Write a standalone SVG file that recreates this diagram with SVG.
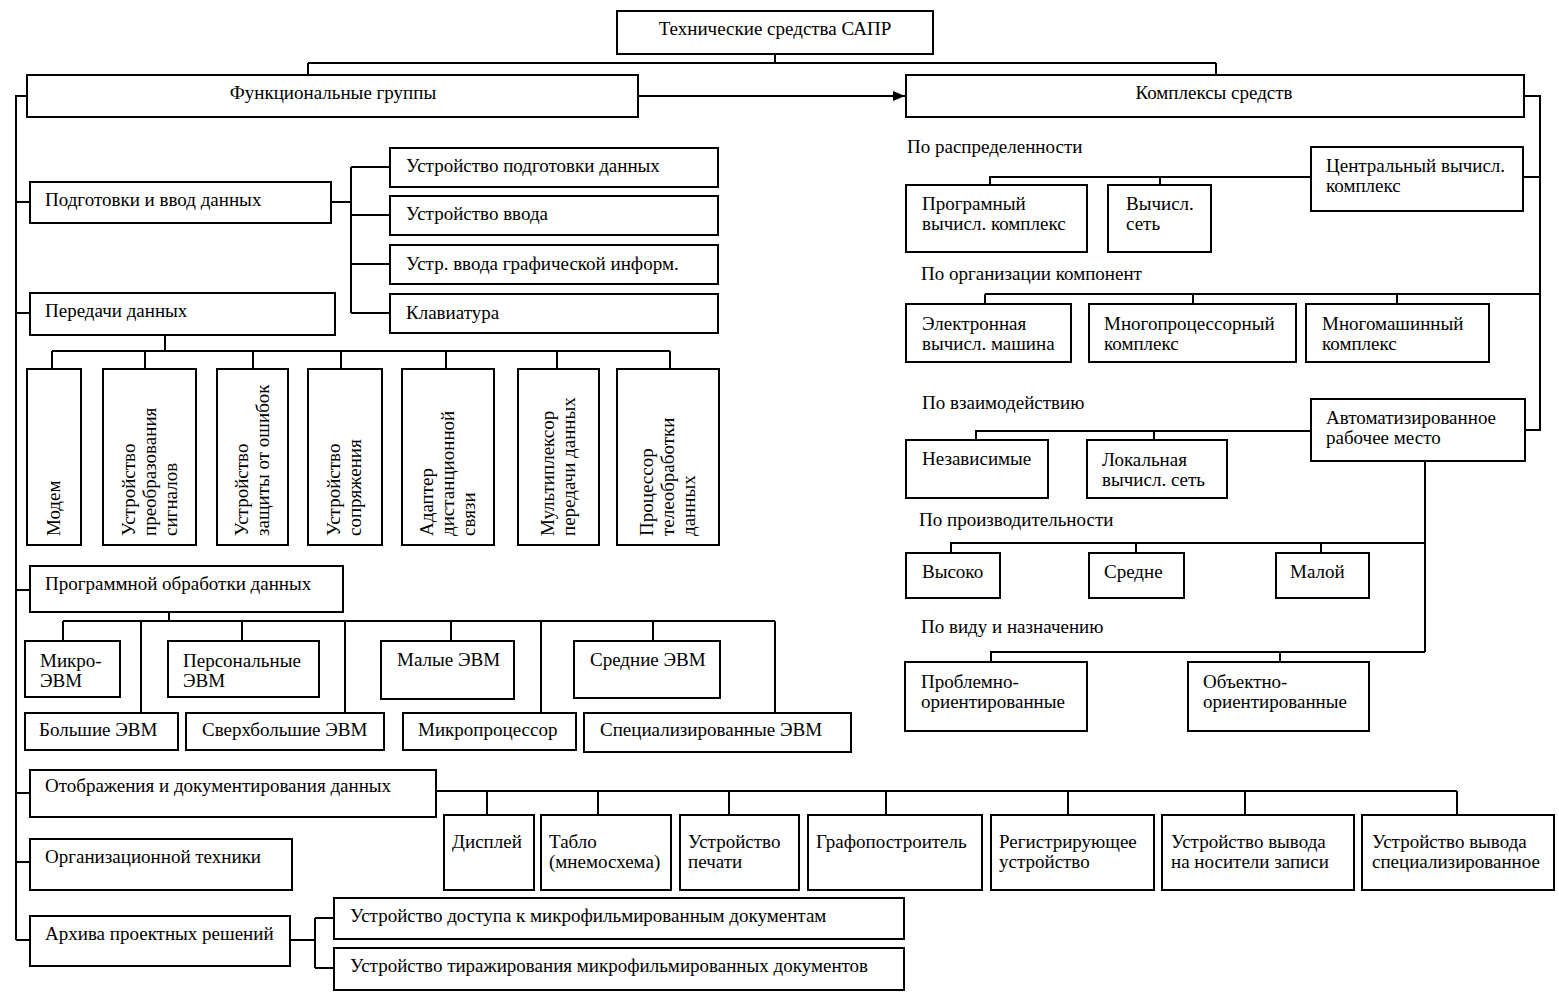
<svg xmlns="http://www.w3.org/2000/svg" width="1559" height="1000" viewBox="0 0 1559 1000">
<style>
.b{fill:#fff;stroke:#000;stroke-width:2}
.t{font-family:"Liberation Serif","Times New Roman",serif;font-size:19px;fill:#000}
.m{text-anchor:middle}
.c{stroke:#000;stroke-width:2;fill:none}
</style>
<defs>
<marker id="ah" viewBox="0 0 10 10" refX="10" refY="5" markerWidth="12" markerHeight="10" orient="auto" markerUnits="userSpaceOnUse" preserveAspectRatio="none">
<path d="M0,0 L10,5 L0,10 Z" fill="#000"/>
</marker>
</defs>
<rect width="1559" height="1000" fill="#fff"/>

<g id="connectors">
<path class="c" d="M775,54 V63 M308,63 H1216 M308,63 V75 M1216,63 V75"/>
<path class="c" d="M638,96 H905" marker-end="url(#ah)"/>
<path class="c" d="M27,96 H16 V940 M16,202 H30 M16,313 H30 M16,590 H30 M16,793 H30 M16,862 H30 M16,940 H30"/>
<path class="c" d="M331,202 H351 M351,167 V313 M351,167 H390 M351,215 H390 M351,264 H390 M351,313 H390"/>
<path class="c" d="M165,335 V351 M52,351 H670 M52,351 V369 M145,351 V369 M253,351 V369 M341,351 V369 M446,351 V369 M557,351 V369 M670,351 V369"/>
<path class="c" d="M169,612 V621 M63,621 H775 M63,621 V641 M141,621 V713 M242,621 V641 M345,621 V713 M451,621 V641 M541,621 V713 M653,621 V641 M775,621 V713"/>
<path class="c" d="M436,791 H1457 M487,791 V815 M598,791 V815 M729,791 V815 M886,791 V815 M1068,791 V815 M1245,791 V815 M1457,791 V815"/>
<path class="c" d="M290,940 H315 M315,918 V968 M315,918 H334 M315,968 H334"/>
<path class="c" d="M1524,96 H1540 V430 H1525 M1540,177 H1523 M1540,294 H985 M985,294 V304 M1193,294 V304 M1397,294 V304"/>
<path class="c" d="M1311,177 H990 V185 M1160,177 V185"/>
<path class="c" d="M1311,431 H976 V440 M1154,431 V440"/>
<path class="c" d="M1425,461 V652 M1425,543 H951 V553 M1136,543 V553 M1321,543 V553 M1425,652 H991 V662 M1280,652 V662"/>
</g>

<g id="n-root"><rect class="b" x="617" y="11" width="316" height="43"/><text class="t m" x="775" y="35">Технические средства САПР</text></g>
<g id="n-func"><rect class="b" x="27" y="75" width="611" height="42"/><text class="t m" x="333" y="99">Функциональные группы</text></g>
<g id="n-kompl"><rect class="b" x="906" y="75" width="618" height="42"/><text class="t m" x="1214" y="99">Комплексы средств</text></g>

<g id="n-podg"><rect class="b" x="30" y="182" width="301" height="41"/><text class="t" x="45" y="206">Подготовки и ввод данных</text></g>
<g id="n-ud1"><rect class="b" x="390" y="148" width="328" height="39"/><text class="t" x="406" y="172">Устройство подготовки данных</text></g>
<g id="n-ud2"><rect class="b" x="390" y="196" width="328" height="39"/><text class="t" x="406" y="220">Устройство ввода</text></g>
<g id="n-ud3"><rect class="b" x="390" y="245" width="328" height="39"/><text class="t" x="406" y="270">Устр. ввода графической информ.</text></g>
<g id="n-ud4"><rect class="b" x="390" y="294" width="328" height="39"/><text class="t" x="406" y="319">Клавиатура</text></g>

<g id="n-pered"><rect class="b" x="30" y="293" width="305" height="42"/><text class="t" x="45" y="317">Передачи данных</text></g>
<g id="n-modem"><rect class="b" x="27" y="369" width="54" height="176"/><text class="t" transform="translate(60,536) rotate(-90)">Модем</text></g>
<g id="n-upr"><rect class="b" x="103" y="369" width="93" height="176"/><text class="t" transform="translate(135,536) rotate(-90)"><tspan x="0" y="0">Устройство</tspan><tspan x="0" y="21">преобразования</tspan><tspan x="0" y="42">сигналов</tspan></text></g>
<g id="n-uzo"><rect class="b" x="217" y="369" width="71" height="176"/><text class="t" transform="translate(248,536) rotate(-90)"><tspan x="0" y="0">Устройство</tspan><tspan x="0" y="21">защиты от ошибок</tspan></text></g>
<g id="n-usopr"><rect class="b" x="308" y="369" width="74" height="176"/><text class="t" transform="translate(340,536) rotate(-90)"><tspan x="0" y="0">Устройство</tspan><tspan x="0" y="21">сопряжения</tspan></text></g>
<g id="n-adapt"><rect class="b" x="402" y="369" width="92" height="176"/><text class="t" transform="translate(433,536) rotate(-90)"><tspan x="0" y="0">Адаптер</tspan><tspan x="0" y="21">дистанционной</tspan><tspan x="0" y="42">связи</tspan></text></g>
<g id="n-mux"><rect class="b" x="518" y="369" width="81" height="176"/><text class="t" transform="translate(554,536) rotate(-90)"><tspan x="0" y="0">Мультиплексор</tspan><tspan x="0" y="21">передачи данных</tspan></text></g>
<g id="n-proc"><rect class="b" x="617" y="369" width="102" height="176"/><text class="t" transform="translate(653,536) rotate(-90)"><tspan x="0" y="0">Процессор</tspan><tspan x="0" y="21">телеобработки</tspan><tspan x="0" y="42">данных</tspan></text></g>

<g id="n-prog"><rect class="b" x="30" y="566" width="313" height="46"/><text class="t" x="45" y="590">Программной обработки данных</text></g>
<g id="n-micro"><rect class="b" x="25" y="641" width="95" height="56"/><text class="t" x="40" y="667">Микро-<tspan x="40" y="687">ЭВМ</tspan></text></g>
<g id="n-pers"><rect class="b" x="168" y="641" width="151" height="56"/><text class="t" x="183" y="667">Персональные<tspan x="183" y="687">ЭВМ</tspan></text></g>
<g id="n-mal"><rect class="b" x="381" y="641" width="133" height="58"/><text class="t" x="397" y="666">Малые ЭВМ</text></g>
<g id="n-sred"><rect class="b" x="574" y="641" width="146" height="57"/><text class="t" x="590" y="666">Средние ЭВМ</text></g>
<g id="n-bolsh"><rect class="b" x="25" y="713" width="153" height="37"/><text class="t" x="39" y="736">Большие ЭВМ</text></g>
<g id="n-sverh"><rect class="b" x="186" y="713" width="198" height="37"/><text class="t" x="202" y="736">Сверхбольшие ЭВМ</text></g>
<g id="n-mp"><rect class="b" x="403" y="713" width="173" height="37"/><text class="t" x="418" y="736">Микропроцессор</text></g>
<g id="n-spec"><rect class="b" x="584" y="713" width="267" height="39"/><text class="t" x="600" y="736">Специализированные ЭВМ</text></g>

<g id="n-otobr"><rect class="b" x="30" y="770" width="406" height="47"/><text class="t" x="45" y="792">Отображения и документирования данных</text></g>
<g id="n-disp"><rect class="b" x="444" y="815" width="90" height="75"/><text class="t" x="452" y="848">Дисплей</text></g>
<g id="n-tablo"><rect class="b" x="541" y="815" width="130" height="75"/><text class="t" x="549" y="848">Табло<tspan x="549" y="868">(мнемосхема)</tspan></text></g>
<g id="n-pech"><rect class="b" x="680" y="815" width="119" height="75"/><text class="t" x="688" y="848">Устройство<tspan x="688" y="868">печати</tspan></text></g>
<g id="n-graf"><rect class="b" x="808" y="815" width="174" height="75"/><text class="t" x="816" y="848">Графопостроитель</text></g>
<g id="n-reg"><rect class="b" x="991" y="815" width="163" height="75"/><text class="t" x="999" y="848">Регистрирующее<tspan x="999" y="868">устройство</tspan></text></g>
<g id="n-vyv1"><rect class="b" x="1162" y="815" width="192" height="75"/><text class="t" x="1171" y="848">Устройство вывода<tspan x="1171" y="868">на носители записи</tspan></text></g>
<g id="n-vyv2"><rect class="b" x="1362" y="815" width="192" height="75"/><text class="t" x="1372" y="848">Устройство вывода<tspan x="1372" y="868">специализированное</tspan></text></g>

<g id="n-org"><rect class="b" x="30" y="839" width="262" height="51"/><text class="t" x="45" y="863">Организационной техники</text></g>
<g id="n-arh"><rect class="b" x="30" y="916" width="260" height="50"/><text class="t" x="45" y="940">Архива проектных решений</text></g>
<g id="n-dost"><rect class="b" x="334" y="898" width="570" height="41"/><text class="t" x="350" y="922">Устройство доступа к микрофильмированным документам</text></g>
<g id="n-tir"><rect class="b" x="334" y="948" width="570" height="42"/><text class="t" x="350" y="972">Устройство тиражирования микрофильмированных документов</text></g>

<g id="lbl-raspr"><text class="t" x="907" y="153">По распределенности</text></g>
<g id="n-centr"><rect class="b" x="1311" y="147" width="212" height="64"/><text class="t" x="1326" y="172">Центральный вычисл.<tspan x="1326" y="192">комплекс</tspan></text></g>
<g id="n-progvk"><rect class="b" x="906" y="185" width="181" height="67"/><text class="t" x="922" y="210">Програмный<tspan x="922" y="230">вычисл. комплекс</tspan></text></g>
<g id="n-vset"><rect class="b" x="1108" y="185" width="103" height="67"/><text class="t" x="1126" y="210">Вычисл.<tspan x="1126" y="230">сеть</tspan></text></g>

<g id="lbl-org"><text class="t" x="921" y="280">По организации компонент</text></g>
<g id="n-evm"><rect class="b" x="906" y="304" width="165" height="58"/><text class="t" x="922" y="330">Электронная<tspan x="922" y="350">вычисл. машина</tspan></text></g>
<g id="n-mproc"><rect class="b" x="1089" y="304" width="207" height="58"/><text class="t" x="1104" y="330">Многопроцессорный<tspan x="1104" y="350">комплекс</tspan></text></g>
<g id="n-mmash"><rect class="b" x="1306" y="304" width="183" height="58"/><text class="t" x="1322" y="330">Многомашинный<tspan x="1322" y="350">комплекс</tspan></text></g>

<g id="lbl-vz"><text class="t" x="922" y="409">По взаимодействию</text></g>
<g id="n-arm"><rect class="b" x="1311" y="399" width="214" height="62"/><text class="t" x="1326" y="424">Автоматизированное<tspan x="1326" y="444">рабочее место</tspan></text></g>
<g id="n-nez"><rect class="b" x="906" y="440" width="142" height="58"/><text class="t" x="922" y="465">Независимые</text></g>
<g id="n-lvs"><rect class="b" x="1087" y="440" width="140" height="58"/><text class="t" x="1102" y="466">Локальная<tspan x="1102" y="486">вычисл. сеть</tspan></text></g>

<g id="lbl-proizv"><text class="t" x="919" y="526">По производительности</text></g>
<g id="n-vys"><rect class="b" x="906" y="553" width="94" height="45"/><text class="t" x="922" y="578">Высоко</text></g>
<g id="n-sre"><rect class="b" x="1089" y="553" width="95" height="45"/><text class="t" x="1104" y="578">Средне</text></g>
<g id="n-malo"><rect class="b" x="1276" y="553" width="93" height="45"/><text class="t" x="1290" y="578">Малой</text></g>

<g id="lbl-vid"><text class="t" x="921" y="633">По виду и назначению</text></g>
<g id="n-probl"><rect class="b" x="905" y="662" width="182" height="69"/><text class="t" x="921" y="688">Проблемно-<tspan x="921" y="708">ориентированные</tspan></text></g>
<g id="n-obj"><rect class="b" x="1188" y="662" width="181" height="69"/><text class="t" x="1203" y="688">Объектно-<tspan x="1203" y="708">ориентированные</tspan></text></g>
</svg>
